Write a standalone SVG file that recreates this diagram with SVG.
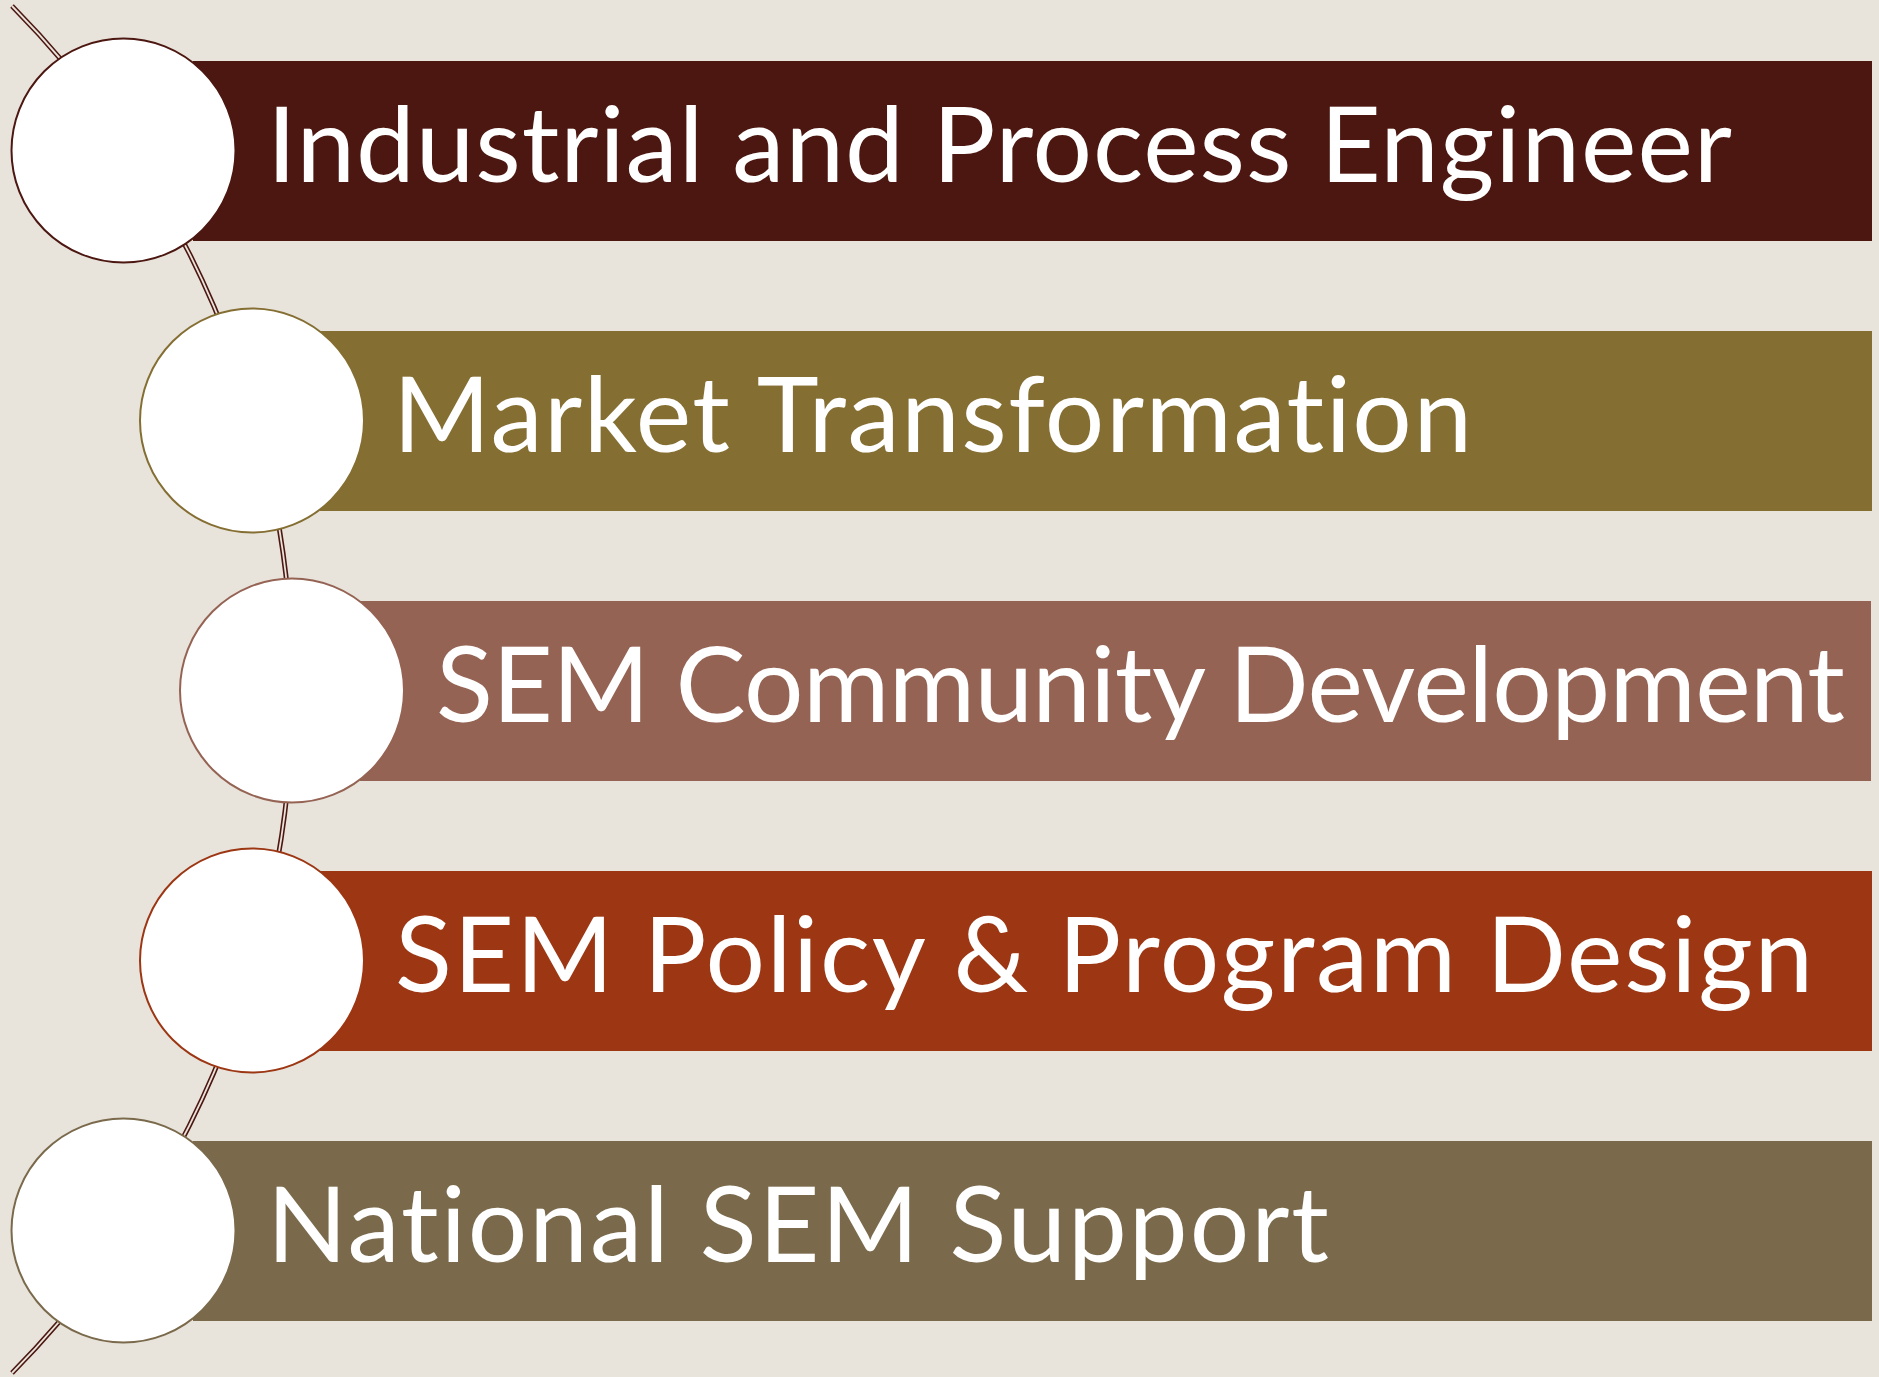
<svg xmlns="http://www.w3.org/2000/svg" width="1879" height="1377" viewBox="0 0 1879 1377">
<style>
.lbl{font-family:"Lato","Open Sans","Liberation Sans",sans-serif;font-size:105px;fill:#ffffff;font-variant-ligatures:none;font-feature-settings:"liga" 0,"clig" 0;}
.dot{fill:#ffffff;stroke-width:2;}
</style>
<rect x="0" y="0" width="1879" height="1377" fill="#e8e4dc"/>
<g id="connectors">
<path d="M 12 6 A 973 973 0 0 1 12 1373" fill="none" stroke="#4d1711" stroke-width="5"/>
<path d="M 12 6 A 973 973 0 0 1 12 1373" fill="none" stroke="#e8e4dc" stroke-width="1.8"/>
</g>
<g id="node1">
<rect x="193" y="61" width="1679" height="180" fill="#4c1711"/>
<circle class="dot" cx="123.5" cy="150.5" r="112" stroke="#4c1711"/>
<text class="lbl" x="267" y="182" textLength="1465" lengthAdjust="spacing">Industrial and Process Engineer</text>
</g>
<g id="node2">
<rect x="320" y="331" width="1552" height="180" fill="#856e32"/>
<circle class="dot" cx="252" cy="420.5" r="112" stroke="#856e32"/>
<text class="lbl" x="393" y="452" textLength="1079" lengthAdjust="spacing">Market Transformation</text>
</g>
<g id="node3">
<rect x="360" y="601" width="1511" height="180" fill="#956353"/>
<circle class="dot" cx="292" cy="690.5" r="112" stroke="#956353"/>
<text class="lbl" x="436" y="722" textLength="1409" lengthAdjust="spacing">SEM Community Development</text>
</g>
<g id="node4">
<rect x="320" y="871" width="1552" height="180" fill="#9c3613"/>
<circle class="dot" cx="252" cy="960.5" r="112" stroke="#9c3613"/>
<text class="lbl" x="395" y="992" textLength="1418" lengthAdjust="spacing">SEM Policy &amp; Program Design</text>
</g>
<g id="node5">
<rect x="193" y="1141" width="1679" height="180" fill="#7a6a4b"/>
<circle class="dot" cx="123.5" cy="1230.5" r="112" stroke="#7a6a4b"/>
<text class="lbl" x="267" y="1262" textLength="1062" lengthAdjust="spacing">National SEM Support</text>
</g>
</svg>
